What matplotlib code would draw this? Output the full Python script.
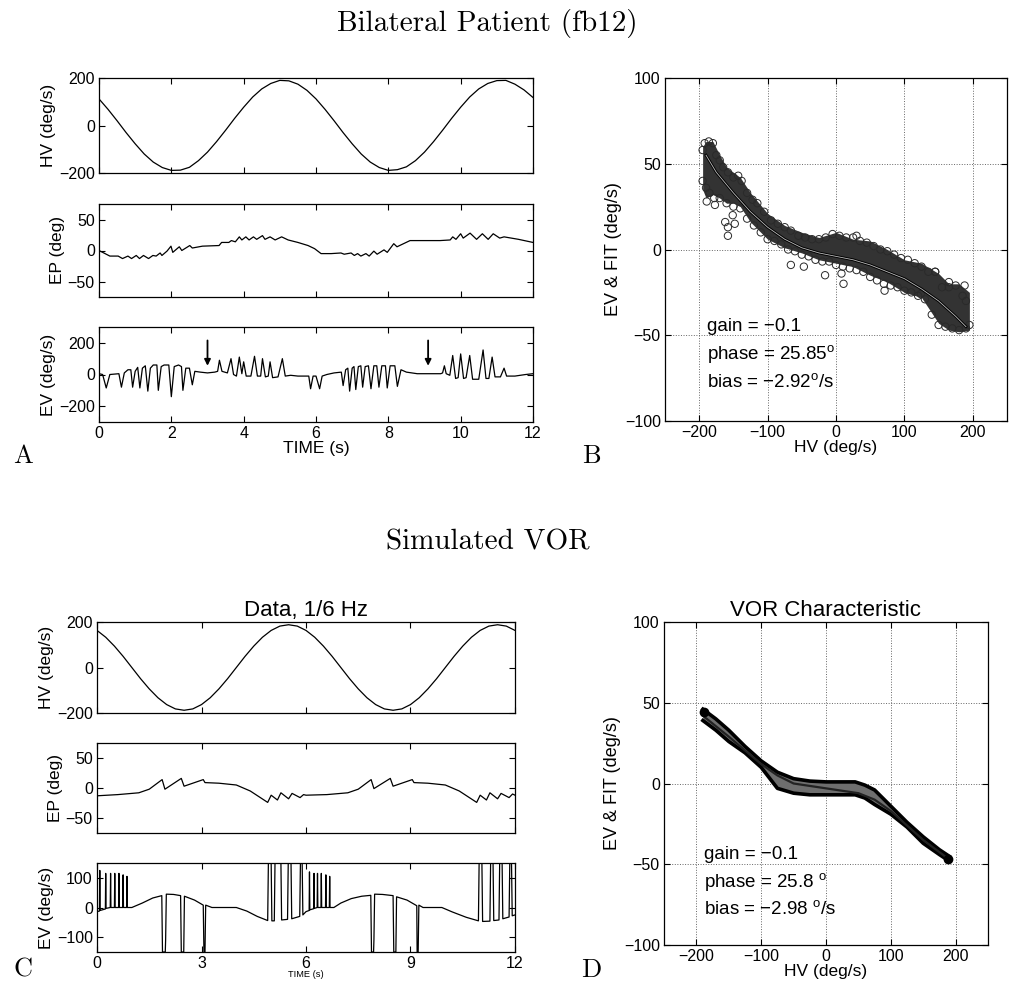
import matplotlib
matplotlib.use("Agg")
import matplotlib.pyplot as plt

plt.rcParams["font.family"] = ["Liberation Sans", "DejaVu Sans"]
plt.rcParams["mathtext.fontset"] = "custom"
plt.rcParams["mathtext.rm"] = "Liberation Sans"
plt.rcParams["mathtext.it"] = "Liberation Sans"

# ---------------- Panel A: bilateral patient time series ----------------
a_t = [0.25 * i for i in range(49)]
a_hv = [112, 68, 20, -30, -77, -120, -154, -177, -189, -188, -176, -148, -112,
        -68, -20, 30, 77, 120, 154, 177, 190, 188, 174, 148, 112,
        68, 20, -30, -77, -120, -154, -177, -189, -186, -174, -148, -112,
        -68, -20, 30, 77, 120, 154, 177, 189, 190, 174, 150, 118]

a_ep_t = [0, 0.1, 0.3, 0.53, 0.65, 0.8, 0.9, 1.03, 1.12, 1.23, 1.37, 1.49, 1.58,
          1.69, 1.74, 1.88, 1.99, 2.04, 2.22, 2.29, 2.51, 2.58, 2.86, 3.32,
          3.39, 3.59, 3.66, 3.77, 3.88, 3.95, 4.06, 4.15, 4.27, 4.36, 4.52,
          4.59, 4.73, 4.87, 5.05, 5.23, 5.5, 5.78, 5.96, 6.14, 6.42, 6.69,
          6.78, 6.97, 7.06, 7.15, 7.24, 7.38, 7.47, 7.6, 7.69, 7.88, 7.97,
          8.15, 8.24, 8.6, 9.43, 9.71, 9.78, 9.87, 10.0, 10.07, 10.26, 10.44,
          10.6, 10.76, 10.9, 11.08, 11.2, 11.6, 12.0]
a_ep = [0, -3, -9, -9, -13, -9, -13, -8, -13, -8, -13, -8, -9,
        -4, -8, -1, 7, -3, 6, 0, 8, 4, 7, 8,
        13, 13, 16, 14, 22, 17, 22, 17, 22, 18, 24,
        18, 22, 17, 22, 17, 13, 8, 3, -5, -5, -4,
        -6, -4, -8, -5, -9, -5, -9, -1, -6, 1, -3,
        11, 6, 16, 16, 17, 22, 18, 27, 20, 28, 18,
        27, 18, 27, 20, 22, 18, 13]

a_ev_t = [0, 0.1, 0.2, 0.3, 0.55, 0.62, 0.7, 0.8, 0.88, 0.93, 1.0, 1.07, 1.13,
          1.2, 1.28, 1.35, 1.42, 1.5, 1.6, 1.64, 1.72, 1.8, 1.93, 2.0, 2.08,
          2.2, 2.28, 2.32, 2.4, 2.5, 2.58, 2.65, 2.8, 3.0, 3.2,
          3.28, 3.33, 3.4, 3.55, 3.65, 3.72, 3.8, 3.88, 3.95, 4.0, 4.07, 4.2,
          4.3, 4.38, 4.47, 4.52, 4.6, 4.68, 4.73, 4.8, 4.95, 5.07, 5.15, 5.3,
          5.5, 5.8, 5.85, 5.92, 6.0, 6.1, 6.17, 6.3, 6.5, 6.7, 6.75, 6.82,
          6.88, 6.93, 7.0, 7.05, 7.1, 7.17, 7.24, 7.29, 7.36, 7.45, 7.52, 7.6,
          7.68, 7.74, 7.82, 7.92, 7.97, 8.05, 8.18, 8.25, 8.35, 8.5, 8.8, 9.2,
          9.45, 9.5, 9.55, 9.6, 9.7, 9.78, 9.86, 9.93, 10.0, 10.08, 10.15,
          10.25, 10.33, 10.5, 10.62, 10.7, 10.78, 10.87, 10.95, 11.1, 11.2,
          11.27, 11.5, 11.8, 12.0]
a_ev = [5, 0, -85, 0, 5, -80, 10, 30, 30, -80, 20, 45, -85,
        40, 55, -105, 40, 60, 60, -100, 50, 60, 60, -140, 50,
        60, 50, -100, 40, 40, -65, 20, 15, 10, 15,
        20, 90, 20, 10, 100, 0, -10, 110, 5, 80, -10, -10,
        115, -10, -10, 100, -15, -10, 80, -20, -15, 100, -10, -5,
        -10, -10, -90, -10, -10, -90, -10, 0, 10, 15, -70, 30,
        40, -105, 40, 50, -95, 50, 55, -80, 50, 55, -90, 55,
        55, -80, 55, 55, -85, 55, 55, -75, 30, 15, 5, 5,
        5, 10, 55, 5, -5, 120, -25, -20, 130, -25, -20,
        120, -30, -30, 155, -25, -25, 110, -15, -15, 40,
        -10, -10, 0, 5]
a_arrow_t = [3.0, 9.1]

# ---------------- Panel B: patient EV vs HV ----------------
b_env_hv = [-195, -190, -180, -170, -160, -150, -140, -125, -100, -75, -50,
            -25, 0, 25, 50, 75, 100, 125, 150, 165, 180, 195]
b_env_hi = [60, 63, 63, 55, 48, 45, 42, 33, 21, 14, 10, 7, 10, 6, 5, 0, -6,
            -8, -14, -20, -20, -25]
b_env_lo = [35, 30, 32, 30, 27, 27, 25, 16, 6, 1, -2, -6, -8, -10, -15, -19,
            -25, -28, -43, -47, -48, -47]
b_pts_hv = [-195, -192, -186, -180, -175, -170, -165, -158, -150, -143, -138,
            -130, -122, -115, -105, -95, -85, -75, -66, -55, -45, -35, -25,
            -15, -5, 5, 15, 25, 35, 45, 55, 65, 75, 85, 95, 105, 115, 125,
            135, 145, 155, 165, 175, 185, 190,
            -195, -190, -185, -178, -170, -160, -150, -140, -130, -120, -110,
            -100, -90, -80, -70, -60, -50, -40, -30, -20, -10, 0, 10, 20, 30,
            40, 50, 60, 70, 80, 90, 100, 110, 120, 130, 140, 150, 160, 170,
            180, 190, 195,
            -189, -177, -162, -158, -158, -148, -151, -66, -47, -16, 8, 11,
            30, 71, 124, 145, 165, 188]
b_pts_ev = [58, 62, 63, 62, 55, 52, 48, 45, 42, 43, 40, 33, 29, 27, 22, 17,
            15, 13, 11, 8, 7, 6, 6, 7, 9, 8, 7, 7, 5, 4, 2, 0, -1, -3, -5,
            -6, -8, -10, -13, -13, -22, -22, -21, -27, -30,
            40, 36, 33, 30, 30, 27, 25, 24, 18, 14, 10, 6, 5, 3, 0, -1, -3,
            -4, -6, -7, -7, -9, -10, -11, -12, -13, -16, -18, -20, -21, -22,
            -24, -25, -27, -29, -38, -44, -45, -46, -47, -46, -44,
            28, 26, 16, 13, 8, 15, 20, -9, -10, -15, -14, -20, 8, -24, -26,
            -13, -19, -21]
b_fit_hv = [-190, -175, -150, -125, -100, -75, -50, -25, 0, 25, 50, 75, 100,
            125, 150, 175, 190]
b_fit_ev = [55, 45, 33, 22, 13, 6, 1, -2, -4, -6, -9, -13, -17, -23, -30,
            -39, -45]

# ---------------- Panel C: simulated time series ----------------
c_t = [0.25 * i for i in range(49)]
c_hv = [163, 133, 94, 49, 0, -49, -94, -133, -163, -182, -188, -182, -163,
        -133, -94, -49, 0, 49, 94, 133, 163, 182, 188, 182, 163,
        133, 94, 49, 0, -49, -94, -133, -163, -182, -188, -182, -163,
        -133, -94, -49, 0, 49, 94, 133, 163, 182, 188, 182, 163]

c_ep_t = [0, 0.6, 1.2, 1.5, 1.87, 1.95, 2.42, 2.5, 3.05, 3.1, 3.5, 4.0, 4.4,
          4.9, 5.0, 5.18, 5.28, 5.5, 5.6, 5.83, 5.93, 6.0,
          6.6, 7.2, 7.5, 7.87, 7.95, 8.42, 8.5, 9.05, 9.1, 9.5, 10.0, 10.4,
          10.9, 11.0, 11.18, 11.28, 11.5, 11.6, 11.83, 11.93, 12.0]
c_ep = [-13, -11, -8, -2, 14, -2, 16, 3, 14, 9, 8, 5, -5,
        -24, -12, -20, -8, -18, -9, -16, -11, -12,
        -11, -8, -2, 14, -1, 16, 3, 14, 9, 8, 5, -5,
        -24, -12, -20, -8, -18, -9, -16, -10, -12]

c_ev_t = [0.0, 0.07, 0.08, 0.09, 0.24, 0.25, 0.26, 0.38, 0.39, 0.40, 0.5,
          0.51, 0.52, 0.62, 0.63, 0.64, 0.74, 0.75, 0.76, 0.85, 0.86, 0.87,
          1.0, 1.3, 1.6, 1.86, 1.88, 1.96, 1.97, 1.99, 2.2, 2.4, 2.42, 2.49,
          2.51, 2.8, 3.05, 3.07, 3.1, 3.12, 3.3, 4.0, 4.3, 4.6, 4.9, 4.92,
          5.0, 5.02, 5.09, 5.11, 5.28, 5.3, 5.47, 5.49, 5.57, 5.59, 5.82,
          5.84, 5.89, 5.91, 6.0,
          6.09, 6.1, 6.11, 6.22, 6.23, 6.24, 6.32, 6.33, 6.34, 6.43, 6.44,
          6.45, 6.56, 6.57, 6.58, 6.67, 6.68, 6.69, 6.8, 7.0, 7.3, 7.6, 7.86,
          7.88, 7.94, 7.95, 7.97, 8.2, 8.5, 8.52, 8.58, 8.6, 8.9, 9.18, 9.19,
          9.22, 9.24, 9.36, 9.9, 10.2, 10.6, 10.95, 10.97, 11.05, 11.07,
          11.28, 11.3, 11.37, 11.39, 11.54, 11.56, 11.63, 11.65, 11.83, 11.85,
          11.9, 11.92, 12.0]
c_ev = [-14, -12, 125, -10, -5, 115, -3, 0, 115, 0, 0,
        115, 0, 0, 115, 0, 0, 110, 0, 0, 105, 0,
        0, 15, 32, 40, -150, -150, -110, 45, 44, 40, -150, -150,
        38, 25, 8, -150, -150, 8, 0, 0, -12, -30, -44, 150,
        150, -45, -45, 150, 150, -42, -40, 150, 150, -38, -30,
        150, 150, -25, -14,
        -10, 120, -8, -4, 115, -3, 0, 115, 0, 0, 115,
        0, 0, 110, 0, 0, 105, 0, 0, 15, 30, 38, 41,
        -150, -150, -110, 45, 44, 40, -150, -150, 36, 25, 6, -150,
        -150, 8, 0, 0, -15, -33, -45, 150, 150, -47,
        -46, 150, 150, -44, -42, 150, 150, -38, -32, 150,
        150, -28, -25]

# ---------------- Panel D: simulated VOR characteristic ----------------
d_env_hv = [-190, -170, -150, -125, -100, -75, -50, -25, 0, 25, 45, 60, 75,
            100, 125, 150, 175, 190]
d_env_hi = [46, 40, 33, 23, 14, 7, 3, 1.5, 1, 1, 1, -1, -4, -14, -24, -33,
            -41, -45]
d_env_lo = [39, 33, 26, 19, 10, -3, -6, -7, -7, -7, -7, -9, -13, -19, -27,
            -37, -44, -48]
d_fit_hv = [-190, -150, -100, -75, -50, 0, 50, 75, 100, 150, 190]
d_fit_ev = [42, 29, 12, 5, 0, -3, -6, -10, -17, -35, -47]
d_end_hv = [-188, 189]
d_end_ev = [44, -47]

W, H = 1010, 985
fig = plt.figure(figsize=(W / 100, H / 100), dpi=100)

TICK = 11.5
LAB = 12.5
NOTE = 13.5
TTL = 16


def box(x0, y0, x1, y1):
    return fig.add_axes([x0 / W, 1 - y1 / H, (x1 - x0) / W, (y1 - y0) / H])


def style(ax):
    ax.tick_params(direction="in", length=4, width=0.8, top=True, right=True,
                   labelsize=TICK, pad=3)
    for s in ax.spines.values():
        s.set_linewidth(0.9)


lw = 0.9

# A
ax = box(99, 78, 533, 173)
ax.plot(a_t, a_hv, color="k", lw=lw)
ax.set_xlim(0, 12)
ax.set_ylim(-200, 200)
ax.set_xticks(range(0, 13, 2))
ax.set_xticklabels([])
ax.set_yticks([-200, 0, 200])
ax.set_ylabel("HV (deg/s)", fontsize=LAB, labelpad=2)
style(ax)

ax = box(99, 204, 533, 297)
ax.plot(a_ep_t, a_ep, color="k", lw=lw)
ax.set_xlim(0, 12)
ax.set_ylim(-75, 75)
ax.set_xticks(range(0, 13, 2))
ax.set_xticklabels([])
ax.set_yticks([-50, 0, 50])
ax.set_ylabel("EP (deg)", fontsize=LAB, labelpad=2)
style(ax)

ax = box(99, 327, 533, 422)
ax.plot(a_ev_t, a_ev, color="k", lw=lw)
ax.set_xlim(0, 12)
ax.set_ylim(-300, 300)
ax.set_xticks(range(0, 13, 2))
ax.set_yticks([-200, 0, 200])
ax.set_ylabel("EV (deg/s)", fontsize=LAB, labelpad=2)
ax.set_xlabel("TIME (s)", fontsize=LAB, labelpad=0)
for t in a_arrow_t:
    ax.annotate("", xy=(t, 55), xytext=(t, 215),
                arrowprops=dict(arrowstyle="-|>", color="k", lw=1.3,
                                mutation_scale=9, shrinkA=0, shrinkB=0))
style(ax)

# B
ax = box(665, 78, 1007, 421)
ax.fill_between(b_env_hv, b_env_lo, b_env_hi, color="#333333", lw=0)
ax.scatter(b_pts_hv, b_pts_ev, s=28, facecolors="none", edgecolors="#2a2a2a",
           linewidths=0.7)
ax.plot(b_fit_hv, b_fit_ev, color="k", lw=2.0)
ax.plot(b_fit_hv, b_fit_ev, color="#bdbdbd", lw=0.6)
ax.set_xlim(-250, 250)
ax.set_ylim(-100, 100)
ax.set_xticks([-200, -100, 0, 100, 200])
ax.set_yticks([-100, -50, 0, 50, 100])
ax.grid(True, linestyle=":", color="#666666", lw=0.7)
ax.set_axisbelow(True)
ax.set_xlabel("HV (deg/s)", fontsize=LAB, labelpad=0)
ax.set_ylabel("EV & FIT (deg/s)", fontsize=LAB + 0.5, labelpad=2)
ax.text(-188, -45, "gain = −0.1", fontsize=NOTE, va="center")
ax.text(-188, -61, r"phase = 25.85$^{\mathrm{o}}$", fontsize=NOTE, va="center")
ax.text(-188, -77, r"bias = −2.92$^{\mathrm{o}}$/s", fontsize=NOTE, va="center")
style(ax)

# C
ax = box(97, 622, 515, 713)
ax.plot(c_t, c_hv, color="k", lw=lw)
ax.set_xlim(0, 12)
ax.set_ylim(-200, 200)
ax.set_xticks(range(0, 13, 3))
ax.set_xticklabels([])
ax.set_yticks([-200, 0, 200])
ax.set_ylabel("HV (deg/s)", fontsize=LAB, labelpad=2)
ax.set_title("Data, 1/6 Hz", fontsize=TTL, pad=4)
style(ax)

ax = box(97, 743, 515, 833)
ax.plot(c_ep_t, c_ep, color="k", lw=lw)
ax.set_xlim(0, 12)
ax.set_ylim(-75, 75)
ax.set_xticks(range(0, 13, 3))
ax.set_xticklabels([])
ax.set_yticks([-50, 0, 50])
ax.set_ylabel("EP (deg)", fontsize=LAB, labelpad=2)
style(ax)

ax = box(97, 863, 515, 952)
ax.plot(c_ev_t, c_ev, color="k", lw=lw)
ax.set_xlim(0, 12)
ax.set_ylim(-150, 150)
ax.set_xticks(range(0, 13, 3))
ax.set_yticks([-100, 0, 100])
ax.set_ylabel("EV (deg/s)", fontsize=LAB, labelpad=2)
ax.set_xlabel("TIME (s)", fontsize=6.7, labelpad=-1)
style(ax)

# D
ax = box(664, 622, 988, 945)
ax.fill_between(d_env_hv, d_env_lo, d_env_hi, color="#6e6e6e", lw=0)
ax.plot(d_env_hv, d_env_hi, color="k", lw=2.6)
ax.plot(d_env_hv, d_env_lo, color="k", lw=2.6)
ax.plot(d_fit_hv, d_fit_ev, color="#222222", lw=1.6)
ax.plot(d_end_hv, d_end_ev, "o", color="k", ms=6)
ax.set_xlim(-250, 250)
ax.set_ylim(-100, 100)
ax.set_xticks([-200, -100, 0, 100, 200])
ax.set_yticks([-100, -50, 0, 50, 100])
ax.grid(True, linestyle=":", color="#666666", lw=0.7)
ax.set_axisbelow(True)
ax.set_xlabel("HV (deg/s)", fontsize=LAB, labelpad=0)
ax.set_ylabel("EV & FIT (deg/s)", fontsize=LAB + 0.5, labelpad=2)
ax.set_title("VOR Characteristic", fontsize=TTL, pad=4)
ax.text(-189, -44, "gain = −0.1", fontsize=NOTE, va="center")
ax.text(-189, -61, r"phase = 25.8 $^{\mathrm{o}}$", fontsize=NOTE, va="center")
ax.text(-189, -78, r"bias = −2.98 $^{\mathrm{o}}$/s", fontsize=NOTE, va="center")
style(ax)

# headings and panel letters
fig.text(487 / W, 1 - 23 / H, "Bilateral Patient (fb12)", family="cmr10",
         fontsize=21, ha="center", va="center")
fig.text(488 / W, 1 - 542 / H, "Simulated VOR", family="cmr10",
         fontsize=21, ha="center", va="center")
for lab, x, y in [("A", 23, 456), ("B", 591, 456), ("C", 23, 970),
                  ("D", 591, 970)]:
    fig.text(x / W, 1 - y / H, lab, family="cmr10", fontsize=19,
             ha="center", va="center")

fig.savefig("out.png", dpi=100)
